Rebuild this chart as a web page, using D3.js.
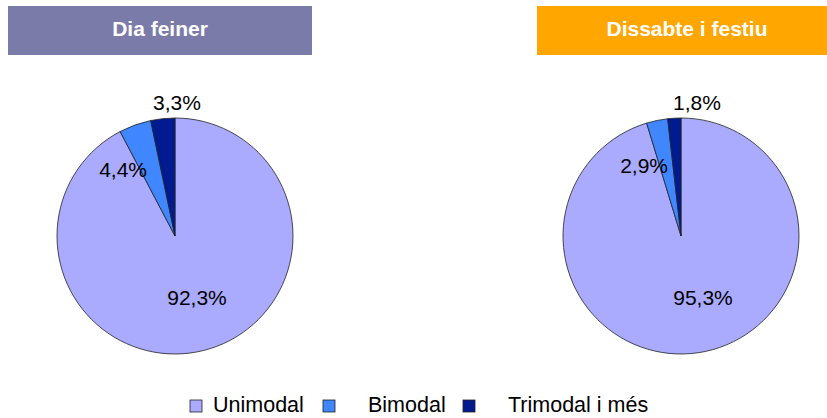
<!DOCTYPE html>
<html>
<head>
<meta charset="utf-8">
<script src="https://cdn.jsdelivr.net/npm/d3@7"></script>
<style>
body{margin:0;background:#fff;}
svg{font-family:"Liberation Sans",Arial,sans-serif;}
</style>
</head>
<body>
<div id="chart"></div>
<script>
var categories=["Unimodal","Bimodal","Trimodal i més"];
var titles=["Dia feiner","Dissabte i festiu"];
var feinerValues=[92.3,4.4,3.3];
var festiuValues=[95.3,2.9,1.8];
var colors=["#aaaaff","#3f86ff","#001a90"];
var headerColors=["#7b7ba9","#ffa600"];

var width=827,height=418;
var svg=d3.select("#chart").append("svg").attr("width",width).attr("height",height);

// layout of each panel (label offsets relative to pie centre)
var panels=[
	{title:titles[0],values:feinerValues,cx:175,hx:8,hw:304,fill:headerColors[0],
	 labels:[[22,305-236,"middle"],[-28,177-236,"end"],[2,110-236,"middle"]]},
	{title:titles[1],values:festiuValues,cx:681,hx:537,hw:300,fill:headerColors[1],
	 labels:[[22,305-236,"middle"],[-13,173-236,"end"],[16,110-236,"middle"]]}
];
var cy=236,r=118;

var pie=d3.pie().sort(null).value(function(d){return d;});
var arc=d3.arc().innerRadius(0).outerRadius(r);
var fmt=function(v){return d3.format(".1f")(v).replace(".",",")+"%";};

panels.forEach(function(p){
	svg.append("rect").attr("x",p.hx).attr("y",6).attr("width",p.hw).attr("height",49).attr("fill",p.fill);
	svg.append("text").attr("x",p.hx+p.hw/2).attr("y",36).attr("text-anchor","middle")
		.attr("fill","#fff").attr("font-weight","bold").attr("font-size","21px").text(p.title);

	var g=svg.append("g").attr("transform","translate("+p.cx+","+cy+")");
	var arcs=pie(p.values);
	g.selectAll("path").data(arcs).enter().append("path")
		.attr("d",arc)
		.attr("fill",function(d,i){return colors[i];})
		.attr("stroke","#222")
		.attr("stroke-width",0.8);
	g.selectAll("text").data(arcs).enter().append("text")
		.attr("x",function(d,i){return p.labels[i][0];})
		.attr("y",function(d,i){return p.labels[i][1];})
		.attr("text-anchor",function(d,i){return p.labels[i][2];})
		.attr("font-size","21px").attr("fill","#000")
		.text(function(d){return fmt(d.data);});
});

//legend
var legendX=[190,323,463];
var textX=[213,368,508];
var lg=svg.append("g");
categories.forEach(function(c,i){
	lg.append("rect").attr("x",legendX[i]).attr("y",400).attr("width",12).attr("height",12)
		.attr("fill",colors[i]).attr("stroke","#222").attr("stroke-width",0.8);
	lg.append("text").attr("x",textX[i]).attr("y",412)
		.attr("font-size","21.5px").attr("fill","#000").text(c);
});
</script>
</body>
</html>
